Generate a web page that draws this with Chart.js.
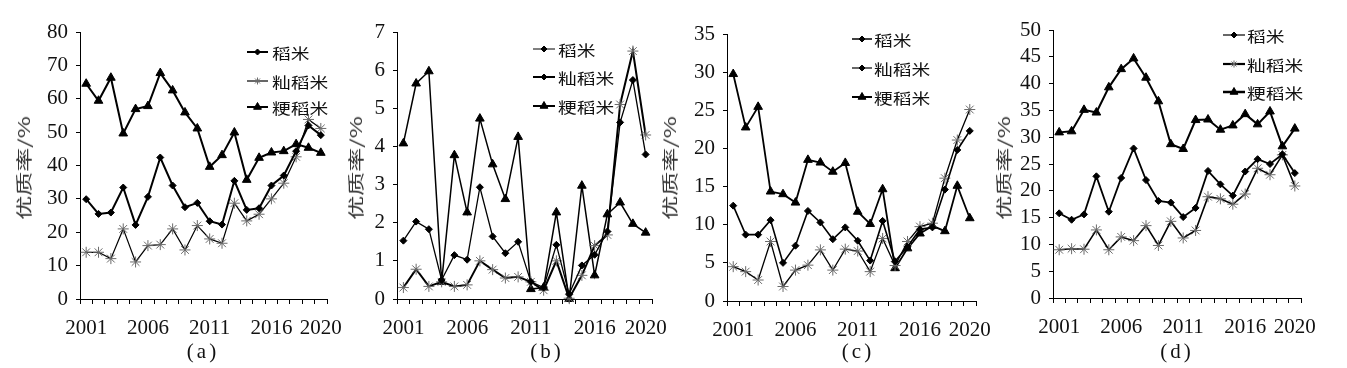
<!DOCTYPE html>
<html>
<head>
<meta charset="utf-8">
<script src="https://cdn.jsdelivr.net/npm/chart.js@4.4.1/dist/chart.umd.min.js"></script>
<style>
  html, body { margin: 0; padding: 0; background: #fff; }
  #wrap { position: relative; width: 1347px; height: 368px; overflow: hidden; background: #fff; }
  #wrap canvas { position: absolute; left: 0; top: 0; }
  .ytitle { position: absolute; white-space: nowrap; font-family: "Noto Sans CJK SC", sans-serif; font-size: 16px; color: #333;
            transform: translate(-50%, -50%) rotate(-90deg) scaleX(1.5); line-height: 1; }
  .sub { position: absolute; white-space: nowrap; font-family: "Liberation Serif", serif; font-size: 21px; color: #111;
         transform: translate(-50%, -50%); letter-spacing: 3px; line-height: 1; }
</style>
</head>
<body>
<div id="wrap">
  <canvas id="ca" width="1347" height="368"></canvas>
  <canvas id="cb" width="1347" height="368"></canvas>
  <canvas id="cc" width="1347" height="368"></canvas>
  <canvas id="cd" width="1347" height="368"></canvas>
</div>
<script>
// ---------- data ----------
const years = ['2001','2002','2003','2004','2005','2006','2007','2008','2009','2010',
               '2011','2012','2013','2014','2015','2016','2017','2018','2019','2020'];
const shownYears = ['2001','2006','2011','2016','2020'];
const seriesNames = ['稻米', '籼稻米', '粳稻米'];
const yTitle = '优质率/%';
const panelLabels = ['(a)', '(b)', '(c)', '(d)'];

const aRice     = [29.9,25.5,25.9,33.4,22.2,30.6,42.4,34.0,27.5,28.8,23.3,22.3,35.4,26.7,27.2,34.0,37.0,44.3,52.0,49.1];
const aIndica   = [14.0,14.0,12.1,21.0,11.1,16.0,16.3,21.0,14.7,22.0,18.0,16.7,28.7,23.4,25.4,30.0,34.7,42.6,53.8,51.1];
const aJaponica = [64.5,59.4,66.3,49.6,56.9,57.8,67.7,62.5,55.9,51.1,39.6,43.1,49.9,35.7,42.3,43.9,44.3,46.4,45.3,43.8];

const bRice     = [1.53,2.03,1.83,0.50,1.15,1.03,2.93,1.64,1.20,1.50,0.45,0.30,1.42,0.13,0.88,1.16,1.77,4.63,5.74,3.79];
const bIndica   = [0.30,0.78,0.33,0.45,0.33,0.37,1.00,0.77,0.55,0.58,0.45,0.23,1.00,0.02,0.62,1.40,1.68,5.10,6.50,4.30];
const bJaponica = [4.08,5.65,5.97,0.45,3.77,2.27,4.73,3.53,2.62,4.25,0.26,0.30,2.27,0.00,2.97,0.62,2.22,2.53,1.97,1.74];

const cRice     = [12.5,8.7,8.7,10.6,5.0,7.25,11.8,10.3,8.1,9.65,7.9,5.3,10.5,5.2,7.1,9.4,9.65,14.6,19.8,22.3];
const cIndica   = [4.5,3.85,2.75,7.8,1.9,4.05,4.7,6.7,4.05,6.8,6.55,3.85,8.2,4.65,7.8,9.75,10.2,16.1,21.1,25.1];
const cJaponica = [29.75,22.75,25.45,14.35,14.0,12.9,18.5,18.15,16.95,18.1,11.7,10.1,14.65,4.3,6.9,8.85,9.85,9.15,15.1,10.85];

const dRice     = [15.8,14.6,15.6,22.7,16.1,22.4,27.9,22.0,18.1,17.8,15.1,16.8,23.7,21.2,19.1,23.6,25.9,25.0,26.8,23.3];
const dIndica   = [9.0,9.2,9.1,12.7,9.0,11.4,10.7,13.5,9.8,14.3,11.2,12.6,18.9,18.5,17.5,19.4,24.2,23.0,26.7,20.9];
const dJaponica = [30.9,31.1,35.1,34.6,39.3,42.7,44.7,41.1,36.7,28.7,27.8,33.2,33.3,31.4,32.2,34.3,32.4,34.8,28.3,31.6];

const yMaxes = [80, 7, 35, 50];
const ySteps = [10, 1, 5, 5];

// ---------- layout / styles ----------
const W = 1347, H = 368, XH = 42;
const geom = [
  { left: 80,   right: 327,  top: 32, bottom: 299, titleX: 23,   subX: 203 },
  { left: 397,  right: 652,  top: 32, bottom: 299, titleX: 355,  subX: 547 },
  { left: 727,  right: 976,  top: 34, bottom: 301, titleX: 669,  subX: 858 },
  { left: 1053, right: 1301, top: 30, bottom: 298, titleX: 1003, subX: 1177 }
];
const legendGeom = [
  { x0: 247,  x1: 268,  tx: 272,  ys: [52, 81, 107] },
  { x0: 533,  x1: 555,  tx: 558,  ys: [49, 77, 106] },
  { x0: 852,  x1: 872,  tx: 874,  ys: [39, 68, 97] },
  { x0: 1223, x1: 1245, tx: 1247, ys: [35, 64, 92] }
];
const GRAY = '#6a6a6a';
const mk = {
  diamond:  { pointStyle: 'rectRot',  radius: 3.5, fill: '#000', stroke: '#000' },
  star:     { pointStyle: 'star',     radius: 5.5, fill: 'rgba(0,0,0,0)', stroke: GRAY },
  triangle: { pointStyle: 'triangle', radius: 5,   fill: '#000', stroke: '#000' }
};
const lineWidths = [[2, 1.2, 2], [1.3, 2, 1.5], [1.6, 1.3, 1.8], [1.8, 1.6, 2]];
const dataMarkers = ['diamond', 'star', 'triangle'];
const legendStyles = [
  [{ lw: 2, m: 'diamond', r: 3 }, { lw: 1.2, m: 'star', r: 3.5 }, { lw: 2, m: 'triangle', r: 4.5 }],
  [{ lw: 1, m: 'diamond', r: 3 }, { lw: 2, m: 'diamond', r: 3 }, { lw: 2, m: 'triangle', r: 4.5 }],
  [{ lw: 1.5, m: 'diamond', r: 3 }, { lw: 1.2, m: 'diamond', r: 3 }, { lw: 2, m: 'triangle', r: 4.5 }],
  [{ lw: 1.2, m: 'diamond', r: 3 }, { lw: 2.2, m: 'star', r: 3.5 }, { lw: 2.5, m: 'triangle', r: 4.5 }]
];

const panelData = [
  [aRice, aIndica, aJaponica],
  [bRice, bIndica, bJaponica],
  [cRice, cIndica, cJaponica],
  [dRice, dIndica, dJaponica]
];

const manualLegend = {
  id: 'manualLegend',
  afterDraw(chart, args, opts) {
    const ctx = chart.ctx;
    const g = opts.geom;
    opts.items.forEach((it, i) => {
      const y = g.ys[i];
      const m = mk[it.m];
      ctx.save();
      ctx.strokeStyle = '#000';
      ctx.lineWidth = it.lw;
      ctx.beginPath(); ctx.moveTo(g.x0, y); ctx.lineTo(g.x1, y); ctx.stroke();
      ctx.fillStyle = m.fill;
      ctx.strokeStyle = m.stroke;
      ctx.lineWidth = 1;
      Chart.helpers.drawPoint(ctx, { pointStyle: m.pointStyle, radius: it.r, borderWidth: 1, rotation: 0 }, (g.x0 + g.x1) / 2, y);
      ctx.restore();
      ctx.save();
      ctx.translate(g.tx, y);
      ctx.scale(1.25, 1);
      ctx.font = '15px "Noto Sans CJK SC"';
      ctx.fillStyle = '#111';
      ctx.textBaseline = 'middle';
      ctx.textAlign = 'left';
      ctx.fillText(seriesNames[i], 0, 1);
      ctx.restore();
    });
  }
};

const ids = ['ca', 'cb', 'cc', 'cd'];
const wrap = document.getElementById('wrap');

ids.forEach((id, p) => {
  const g = geom[p];
  const yw = g.left - (g.titleX - 11);
  const datasets = panelData[p].map((arr, s) => {
    const m = mk[dataMarkers[s]];
    return {
      label: seriesNames[s],
      data: arr,
      borderColor: '#000',
      borderWidth: lineWidths[p][s],
      tension: 0,
      pointStyle: m.pointStyle,
      pointRadius: m.radius,
      pointBackgroundColor: m.fill,
      pointBorderColor: m.stroke,
      pointBorderWidth: 1,
      clip: false
    };
  });
  new Chart(document.getElementById(id), {
    type: 'line',
    data: { labels: years, datasets },
    options: {
      responsive: false,
      animation: false,
      devicePixelRatio: 1,
      events: [],
      layout: { padding: { left: g.left - yw, right: W - g.right, top: g.top, bottom: H - g.bottom - XH } },
      plugins: {
        legend: { display: false },
        tooltip: { enabled: false },
        manualLegend: { geom: legendGeom[p], items: legendStyles[p] }
      },
      scales: {
        x: {
          type: 'category',
          offset: true,
          grid: { offset: true, drawOnChartArea: false, drawTicks: true, tickLength: 5, color: '#000', lineWidth: 1 },
          border: { display: true, color: '#000', width: 1 },
          ticks: {
            autoSkip: false, maxRotation: 0, minRotation: 0, padding: 12,
            color: '#111',
            font: { family: '"Liberation Serif", serif', size: 21 },
            callback: function (v, i) { const l = years[i]; return shownYears.includes(l) ? l : ''; }
          },
          afterFit: s => { s.height = XH; }
        },
        y: {
          min: 0, max: yMaxes[p],
          grid: { drawOnChartArea: false, drawTicks: true, tickLength: 4, color: '#000', lineWidth: 1 },
          border: { display: true, color: '#000', width: 1 },
          ticks: {
            stepSize: ySteps[p], padding: 8, color: '#111', autoSkip: false,
            font: { family: '"Liberation Serif", serif', size: 21, lineHeight: 1 }
          },
          afterFit: s => { s.width = yw; }
        }
      }
    },
    plugins: [manualLegend]
  });

  const t = document.createElement('div');
  t.className = 'ytitle';
  t.textContent = yTitle;
  t.style.left = g.titleX + 'px';
  t.style.top = '168px';
  wrap.appendChild(t);

  const sLab = document.createElement('div');
  sLab.className = 'sub';
  sLab.textContent = panelLabels[p];
  sLab.style.left = g.subX + 'px';
  sLab.style.top = '351px';
  wrap.appendChild(sLab);
});
</script>
</body>
</html>
